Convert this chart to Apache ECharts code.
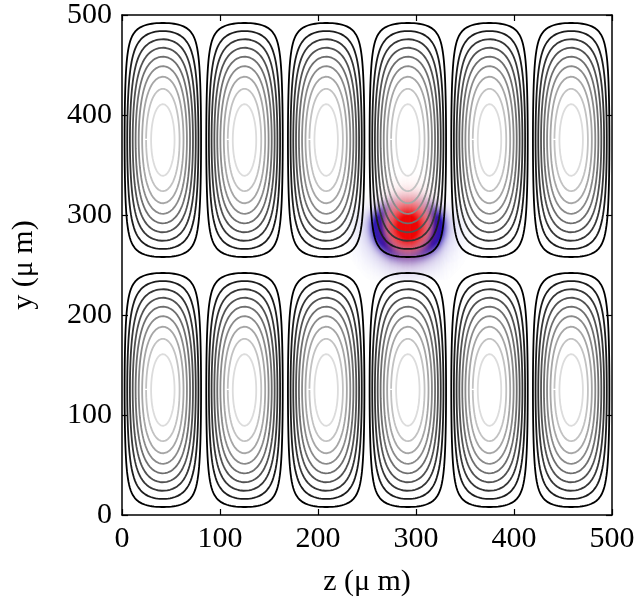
<!DOCTYPE html>
<html>
<head>
<meta charset="utf-8">
<script src="https://cdn.jsdelivr.net/npm/echarts@6/dist/echarts.min.js"></script>
<style>
  html, body { margin: 0; padding: 0; background: #ffffff; }
  #chart { width: 642px; height: 603px; }
</style>
</head>
<body>
<div id="chart"></div>
<script>
// Lattice sites: 6 along z and 2 along y inside the 500 x 500 µm window
const zCellEdges = [0, 83.333, 166.667, 250, 333.333, 416.667, 500];
const yCellEdges = [0, 250, 500];

// Contour levels of the normalised lattice potential, outermost first
const contourLevels = [0.1, 0.2, 0.3, 0.4, 0.5, 0.6, 0.7, 0.8, 0.9];
const contourGrays  = ['#000000', '#1c1c1c', '#363636', '#525252', '#6e6e6e',
                       '#8a8a8a', '#a6a6a6', '#c2c2c2', '#dcdcdc'];

const xTicks = [0, 100, 200, 300, 400, 500];
const yTicks = [0, 100, 200, 300, 400, 500];

// Atom cloud: a positive core (red) wrapped by a negative crescent (blue)
const coreCenter = [292, 288];   // µm
const coreWidth  = [21, 23, 24]; // z, y below centre, y above centre
const coreGain = 1.25;
const shellCenter = [292, 290];
const shellRadius = [31, 31];
const shellThickness = 0.24;     // relative to the radius
const shellHalo = [0.22, 0.65];  // faint outer haze: strength, width
const shellTopCut = 307;         // µm, the shell fades out above this height
const coreColor  = [238, 0, 0];
const shellColor = [20, 20, 195];
const cloudRangeZ = [228, 356];
const cloudRangeY = [236, 352];

const FONT = "'Liberation Serif', 'DejaVu Serif', serif";

// Trace one closed contour of |sin(pi s) sin(pi t)| = c inside a cell
function traceRing(z0, z1, y0, y1, c, n) {
  const quad = [];
  for (let i = 0; i <= n; i++) {
    const tau = i / n;
    const w = (1 - Math.cos(Math.PI * tau)) / 2;
    const u = Math.min(1, Math.pow(c, 1 - w));
    const v = Math.min(1, Math.pow(c, w));
    quad.push([Math.asin(u) / Math.PI, Math.asin(v) / Math.PI]);
  }
  const st = [];
  quad.forEach(p => st.push([p[0], p[1]]));
  quad.slice().reverse().forEach(p => st.push([1 - p[0], p[1]]));
  quad.forEach(p => st.push([1 - p[0], 1 - p[1]]));
  quad.slice().reverse().forEach(p => st.push([p[0], 1 - p[1]]));
  return st.map(p => [z0 + p[0] * (z1 - z0), y0 + p[1] * (y1 - y0)]);
}

const contourSeries = [];
contourLevels.forEach((lev, li) => {
  for (let i = 0; i < zCellEdges.length - 1; i++) {
    for (let j = 0; j < yCellEdges.length - 1; j++) {
      contourSeries.push({
        type: 'line',
        xAxisIndex: 0, yAxisIndex: 0,
        data: traceRing(zCellEdges[i], zCellEdges[i + 1], yCellEdges[j], yCellEdges[j + 1], lev, 70),
        showSymbol: false,
        symbol: 'none',
        silent: true,
        animation: false,
        z: 3,
        lineStyle: { color: contourGrays[li], width: 1.8 }
      });
    }
  }
});

// Cloud amplitudes sampled on a 1 µm grid
function coreAmp(z, y) {
  const dz = (z - coreCenter[0]) / coreWidth[0];
  const dy = (y - coreCenter[1]) / (y < coreCenter[1] ? coreWidth[1] : coreWidth[2]);
  return Math.min(1, coreGain * Math.exp(-dz * dz - dy * dy));
}
function shellAmp(z, y) {
  const dz = (z - shellCenter[0]) / shellRadius[0];
  const dy = (y - shellCenter[1]) / shellRadius[1];
  const r2 = dz * dz + dy * dy;
  const rho = Math.sqrt(r2);
  const d = (rho - 1) / shellThickness;
  const h = (rho - 1) / shellHalo[1];
  const ring = Math.exp(-d * d);
  const halo = shellHalo[0] * Math.exp(-h * h);
  const side = 0.3 + 0.7 * (r2 > 0 ? dz * dz / r2 : 0);
  const top = 1 / (1 + Math.exp((y - shellTopCut) / 6));
  return Math.min(1, (1.05 * ring * side + halo) * top);
}
const cloudData = [];
for (let z = cloudRangeZ[0]; z <= cloudRangeZ[1]; z++) {
  for (let y = cloudRangeY[0]; y <= cloudRangeY[1]; y++) {
    const r = coreAmp(z, y), b = shellAmp(z, y);
    if (r > 0.008 || b > 0.008) cloudData.push([z, y, r, b]);
  }
}
function cloudColor(r, b) {
  let c = [255, 255, 255];
  c = c.map((v, k) => v * (1 - b) + shellColor[k] * b);
  c = c.map((v, k) => v * (1 - r) + coreColor[k] * r);
  return 'rgb(' + c.map(v => Math.round(v)).join(',') + ')';
}

const axisFont = { fontFamily: FONT, fontSize: 30, color: '#000' };
const frameLine = { show: true, onZero: false, lineStyle: { color: '#000', width: 1.5 } };
const tickIn = { show: true, inside: true, length: 6, lineStyle: { color: '#000', width: 1.2 } };

const chart = echarts.init(document.getElementById('chart'), null, { renderer: 'canvas' });
chart.setOption({
  animation: false,
  backgroundColor: '#ffffff',
  grid: { left: 122, right: 30, top: 15, bottom: 88, containLabel: false },
  xAxis: [
    { type: 'value', min: 0, max: 500, interval: 100, position: 'bottom',
      name: 'z (μ m)', nameLocation: 'middle', nameGap: 52,
      nameTextStyle: axisFont,
      axisLine: frameLine, axisTick: tickIn,
      axisLabel: Object.assign({ margin: 9, formatter: v => xTicks.includes(v) ? String(v) : '' }, axisFont),
      splitLine: { show: false } },
    { type: 'value', min: 0, max: 500, interval: 100, position: 'top',
      axisLine: frameLine, axisTick: tickIn, axisLabel: { show: false }, splitLine: { show: false } }
  ],
  yAxis: [
    { type: 'value', min: 0, max: 500, interval: 100, position: 'left',
      name: 'y (μ m)', nameLocation: 'middle', nameGap: 83, nameRotate: 90,
      nameTextStyle: axisFont,
      axisLine: frameLine, axisTick: tickIn,
      axisLabel: Object.assign({ margin: 10, formatter: v => yTicks.includes(v) ? String(v) : '' }, axisFont),
      splitLine: { show: false } },
    { type: 'value', min: 0, max: 500, interval: 100, position: 'right',
      axisLine: frameLine, axisTick: tickIn, axisLabel: { show: false }, splitLine: { show: false } }
  ],
  series: [
    {
      type: 'custom',
      xAxisIndex: 0, yAxisIndex: 0,
      silent: true,
      animation: false,
      z: 1,
      data: cloudData,
      renderItem: function (params, api) {
        const z = api.value(0), y = api.value(1);
        const p0 = api.coord([z - 0.5, y + 0.5]);
        const p1 = api.coord([z + 0.5, y - 0.5]);
        return {
          type: 'rect',
          shape: { x: p0[0], y: p0[1], width: p1[0] - p0[0] + 0.4, height: p1[1] - p0[1] + 0.4 },
          style: { fill: cloudColor(api.value(2), api.value(3)) }
        };
      }
    }
  ].concat(contourSeries)
});
</script>
</body>
</html>
